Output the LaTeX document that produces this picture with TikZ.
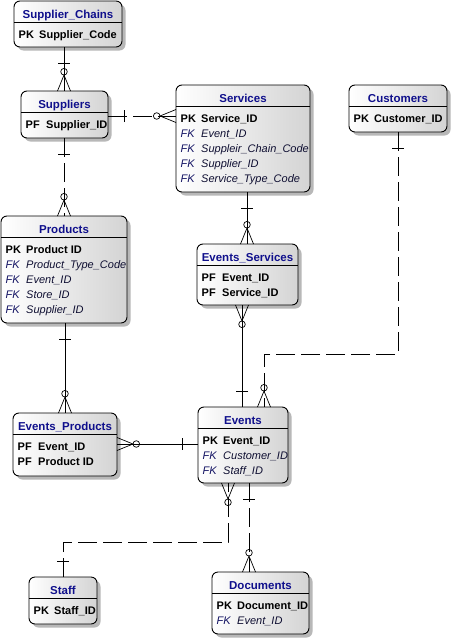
\documentclass[tikz,border=0pt]{standalone}
\usepackage{fontspec}
\setmainfont{Liberation Sans}
\usetikzlibrary{calc,shadows,decorations.markings}
\definecolor{ttlblue}{RGB}{16,16,140}
\definecolor{fkblue}{RGB}{20,20,100}
\definecolor{fkname}{RGB}{15,15,50}
\tikzset{
  entity/.style={draw=black, line width=0.9pt, rounded corners=6pt, inner sep=0pt, outer sep=0pt,
    left color=white, right color=black!17,
    drop shadow={shadow xshift=3.5pt, shadow yshift=-3.5pt, fill=black!28, opacity=1}},
  ttl/.style={anchor=base, inner sep=0pt, font=\fontsize{11.5}{13}\selectfont\bfseries, text=ttlblue},
  divl/.style={line width=0.9pt},
  keyb/.style={anchor=base west, inner sep=0pt, font=\fontsize{11}{13}\selectfont\bfseries, text=black},
  fldb/.style={anchor=base west, inner sep=0pt, font=\fontsize{11}{13}\selectfont\bfseries, text=black},
  keyi/.style={anchor=base west, inner sep=0pt, font=\fontsize{11}{13}\selectfont\itshape, text=fkblue},
  fldi/.style={anchor=base west, inner sep=0pt, font=\fontsize{11}{13}\selectfont\itshape, text=fkname},
  rel/.style={draw=black, line width=0.9pt},
  nonid/.style={dash pattern=on 19pt off 6pt},
  onebar/.style={postaction={decorate, decoration={markings,
      mark=at position 16pt with {\draw[solid, line width=0.9pt] (0,-6pt) -- (0,6pt);}}}},
  crowzero/.style={postaction={decorate, decoration={markings,
      mark=at position -16pt with {\draw[solid, line width=0.7pt] (16pt,6.5pt) -- (0,0) -- (16pt,-6.5pt);
        \draw[solid, line width=0.7pt] (-3.3pt,0) circle (3.3pt);}}}}
}
\newcommand\ERent[6]{%
  \node[entity, minimum width=#4pt, minimum height=#5pt, anchor=north west] (#1) at (#2,#3) {};
  \node[ttl] (#1-title) at ($(#1.north)+(0,17)$) {#6};
  \draw[divl] ($(#1.north west)+(0,21)$) -- ($(#1.north east)+(0,21)$);}
\newcommand\ERpk[4]{%
  \node[keyb] (#1-k#2) at ($(#1.north west)+(4.5,{22+15*#2})$) {#3};
  \node[fldb] (#1-f#2) at ($(#1.north west)+(25,{22+15*#2})$) {#4};}
\newcommand\ERfk[3]{%
  \node[keyi] (#1-k#2) at ($(#1.north west)+(4.5,{22+15*#2})$) {FK};
  \node[fldi] (#1-f#2) at ($(#1.north west)+(25,{22+15*#2})$) {#3};}
\begin{document}
\begin{tikzpicture}[x=1pt, y=-1pt]
\fill[white] (0,0) rectangle (453,640);
\useasboundingbox (0,0) rectangle (453,640);

\ERent{sc}{14}{1}{108}{46}{Supplier\_Chains}
\ERpk{sc}{1}{PK}{Supplier\_Code}

\ERent{sup}{21}{91}{87}{47}{Suppliers}
\ERpk{sup}{1}{PF}{Supplier\_ID}

\ERent{svc}{176}{85}{134}{107}{Services}
\ERpk{svc}{1}{PK}{Service\_ID}
\ERfk{svc}{2}{Event\_ID}
\ERfk{svc}{3}{Suppleir\_Chain\_Code}
\ERfk{svc}{4}{Supplier\_ID}
\ERfk{svc}{5}{Service\_Type\_Code}

\ERent{cus}{349}{85}{98}{47}{Customers}
\ERpk{cus}{1}{PK}{Customer\_ID}

\ERent{prod}{1}{216}{126}{107}{Products}
\ERpk{prod}{1}{PK}{Product ID}
\ERfk{prod}{2}{Product\_Type\_Code}
\ERfk{prod}{3}{Event\_ID}
\ERfk{prod}{4}{Store\_ID}
\ERfk{prod}{5}{Supplier\_ID}

\ERent{es}{197}{244}{101}{61}{Events\_Services}
\ERpk{es}{1}{PF}{Event\_ID}
\ERpk{es}{2}{PF}{Service\_ID}

\ERent{ep}{13}{413}{104}{63}{Events\_Products}
\ERpk{ep}{1}{PF}{Event\_ID}
\ERpk{ep}{2}{PF}{Product ID}

\ERent{ev}{198}{407}{90}{76}{Events}
\ERpk{ev}{1}{PK}{Event\_ID}
\ERfk{ev}{2}{Customer\_ID}
\ERfk{ev}{3}{Staff\_ID}

\ERent{st}{29}{577}{68}{47}{Staff}
\ERpk{st}{1}{PK}{Staff\_ID}

\ERent{doc}{212}{572}{97}{62}{Documents}
\ERpk{doc}{1}{PK}{Document\_ID}
\ERfk{doc}{2}{Event\_ID}

% helper coordinates
\coordinate (x64) at (64,0);
\coordinate (x65) at (65,0);
\coordinate (x247) at (247,0);
\coordinate (x242) at (242,0);
\coordinate (x398) at (398,0);
\coordinate (x264) at (264,0);
\coordinate (x228) at (228,0);
\coordinate (x249) at (249,0);
\coordinate (y116) at (0,116);
\coordinate (y444) at (0,444);
\coordinate (b1) at (398,354);
\coordinate (b2) at (264,354);
\coordinate (b3) at (63,542);
\coordinate (b4) at (228,542);

% connectors
\draw[rel, onebar, crowzero] (sc.south -| x64) -- (sup.north -| x64);
\draw[rel, nonid, onebar, crowzero] (sup.east |- y116) -- (svc.west |- y116);
\draw[rel, nonid, onebar, crowzero] (sup.south -| x64) -- (prod.north -| x64);
\draw[rel, onebar, crowzero] (svc.south -| x247) -- (es.north -| x247);
\draw[rel, onebar, crowzero] (ev.north -| x242) -- (es.south -| x242);
\draw[rel, nonid, onebar, crowzero] (cus.south -| x398) -- (b1) -- (b2) -- (ev.north -| x264);
\draw[rel, onebar, crowzero] (prod.south -| x65) -- (ep.north -| x65);
\draw[rel, onebar, crowzero] (ev.west |- y444) -- (ep.east |- y444);
\draw[rel, nonid, onebar, crowzero] (st.north) -- (b3) -- (b4) -- (ev.south -| x228);
\draw[rel, nonid, onebar, crowzero] (ev.south -| x249) -- (doc.north -| x249);
\end{tikzpicture}
\end{document}
